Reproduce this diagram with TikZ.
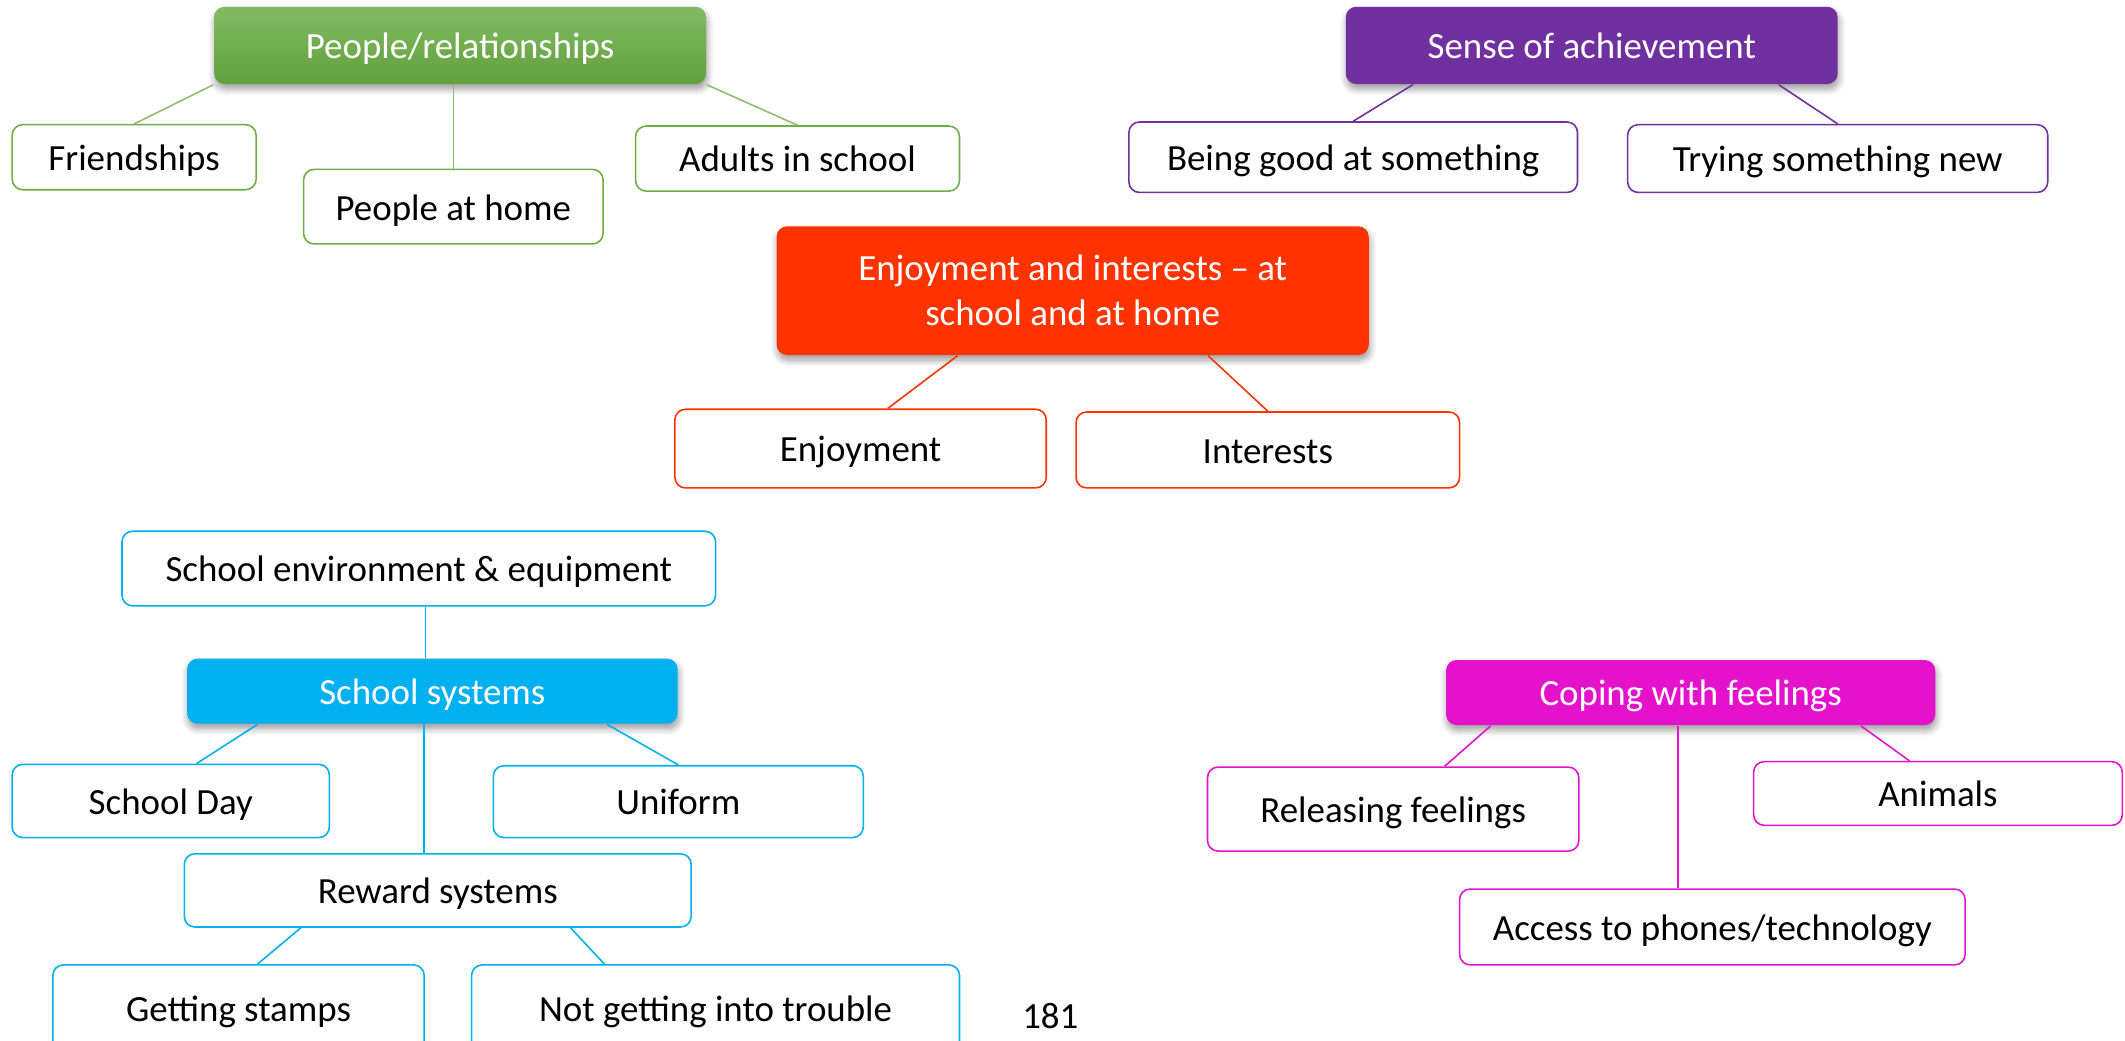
\documentclass[tikz,border=0pt]{standalone}
\usepackage{fontspec}
\setmainfont{Carlito}
\usepackage{tikz}
\usetikzlibrary{shadows,shadows.blur}
\definecolor{colorppl}{HTML}{70AD47}
\definecolor{colorpplt}{HTML}{82BA64}
\definecolor{colorpplb}{HTML}{62A03C}
\definecolor{colorach}{HTML}{7030A0}
\definecolor{colorenj}{HTML}{FF3300}
\definecolor{colorsys}{HTML}{00B0F0}
\definecolor{colorcop}{HTML}{E512CC}
\newcommand\px{0.013552cm}
\tikzset{topic/.style={draw=none, rounded corners=3pt, text=white, inner sep=0pt, align=center,
  blur shadow={shadow blur steps=6, shadow xshift=0.3pt, shadow yshift=-1.4pt, shadow opacity=40}}}
\tikzset{leaf/.style={draw, rounded corners=3pt, fill=white, text=black, inner sep=0pt, line width=0.45pt,
  text height=8.6pt, text depth=1pt}}
\tikzset{oneline/.style={text height=8.6pt, text depth=1pt}}
\tikzset{
  linkppl/.style={colorppl!80!white, line width=0.45pt},
  linkach/.style={colorach, line width=0.45pt},
  linkenj/.style={colorenj, line width=0.45pt},
  linksys/.style={colorsys, line width=0.45pt},
  linkcop/.style={colorcop, line width=0.45pt}
}

\begin{document}
\begin{tikzpicture}[x=\px, y=-\px, font=\fontsize{10.5}{12.8}\selectfont]
\useasboundingbox (0,0) rectangle (1568,768);
\clip (0,0) rectangle (1568,768);

\node[topic, oneline, top color=colorpplt, bottom color=colorpplb, minimum width=363*\px, minimum height=57*\px]
(ppl) at (339.5,33.5) {People/relationships};
\node[leaf, draw=colorppl, minimum width=180*\px, minimum height=48*\px]
(friend) at (99,116) {Friendships};
\node[leaf, draw=colorppl, minimum width=221*\px, minimum height=55*\px]
(home) at (334.5,152.5) {People at home};
\node[leaf, draw=colorppl, minimum width=239*\px, minimum height=48*\px]
(adults) at (588.5,117) {Adults in school};

\node[topic, oneline, fill=colorach, minimum width=363*\px, minimum height=57*\px]
(ach) at (1174.5,33.5) {Sense of achievement};
\node[leaf, draw=colorach, minimum width=331*\px, minimum height=52*\px]
(good) at (998.5,116) {Being good at something};
\node[leaf, draw=colorach, minimum width=310*\px, minimum height=50*\px]
(trying) at (1356,117) {Trying something new};

\node[topic, fill=colorenj, minimum width=437*\px, minimum height=95*\px]
(enj) at (791.5,214.5) {Enjoyment and interests -- at\\school and at home};
\node[leaf, draw=colorenj, minimum width=274*\px, minimum height=58*\px]
(enjoy) at (635,331) {Enjoyment};
\node[leaf, draw=colorenj, minimum width=283*\px, minimum height=56*\px]
(inter) at (935.5,332) {Interests};

\node[leaf, draw=colorsys, minimum width=438*\px, minimum height=55*\px]
(env) at (309,419.5) {School environment \& equipment};
\node[topic, oneline, fill=colorsys, minimum width=362*\px, minimum height=48*\px]
(sys) at (319,510) {School systems};
\node[leaf, draw=colorsys, minimum width=234*\px, minimum height=54*\px]
(day) at (126,591) {School Day};
\node[leaf, draw=colorsys, minimum width=273*\px, minimum height=53*\px]
(uni) at (500.5,591.5) {Uniform};
\node[leaf, draw=colorsys, minimum width=374*\px, minimum height=54*\px]
(reward) at (323,657) {Reward systems};
\node[leaf, draw=colorsys, minimum width=274*\px, minimum height=64*\px]
(stamps) at (176,744) {Getting stamps};
\node[leaf, draw=colorsys, minimum width=360*\px, minimum height=64*\px]
(trouble) at (528,744) {Not getting into trouble};

\node[topic, oneline, fill=colorcop, minimum width=361*\px, minimum height=48*\px]
(cop) at (1247.5,511) {Coping with feelings};
\node[leaf, draw=colorcop, minimum width=274*\px, minimum height=62*\px]
(release) at (1028,597) {Releasing feelings};
\node[leaf, draw=colorcop, minimum width=272*\px, minimum height=47*\px]
(animals) at (1430,585.5) {Animals};
\node[leaf, draw=colorcop, minimum width=373*\px, minimum height=56*\px]
(access) at (1263.5,684) {Access to phones/technology};

\node[inner sep=0pt] (page) at (775,750) {181};

\draw[linkppl] (ppl.south west) -- (friend.north);
\draw[linkppl] (ppl.south -| home.north) -- (home.north);
\draw[linkppl] (ppl.south east) -- (adults.north);

\draw[linkach] ([xshift=50*\px]ach.south west) -- (good.north);
\draw[linkach] ([xshift=-44*\px]ach.south east) -- (trying.north);

\draw[linkenj] ([xshift=-85*\px]enj.south) -- ([xshift=20*\px]enjoy.north);
\draw[linkenj] ([xshift=100*\px]enj.south) -- (inter.north);

\draw[linksys] ([xshift=5*\px]env.south) -- ([xshift=5*\px]env.south |- sys.north);
\draw[linksys] ([xshift=-129*\px]sys.south) -- ([xshift=19*\px]day.north);
\draw[linksys] ([xshift=-6*\px]sys.south) -- ([xshift=-6*\px]sys.south |- reward.north);
\draw[linksys] ([xshift=129*\px]sys.south) -- (uni.north);
\draw[linksys] ([xshift=-101*\px]reward.south) -- ([xshift=14*\px]stamps.north);
\draw[linksys] ([xshift=98*\px]reward.south) -- ([xshift=-82*\px]trouble.north);

\draw[linkcop] ([xshift=-147.5*\px]cop.south) -- ([xshift=38*\px]release.north);
\draw[linkcop] ([xshift=-9.5*\px]cop.south) -- ([xshift=-9.5*\px]cop.south |- access.north);
\draw[linkcop] ([xshift=125.5*\px]cop.south) -- ([xshift=-21*\px]animals.north);
\end{tikzpicture}
\end{document}
